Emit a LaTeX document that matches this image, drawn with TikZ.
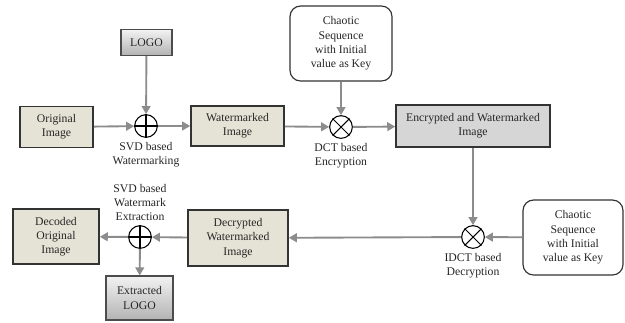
\documentclass[tikz,border=0pt]{standalone}
\usepackage{fontspec}
\setmainfont{Liberation Serif}
\usepackage{tikz}
\usetikzlibrary{arrows.meta,positioning,calc}
\definecolor{boxbeige}{rgb}{0.90,0.89,0.84}
\definecolor{boxgrey}{rgb}{0.84,0.84,0.84}
\definecolor{flowgrey}{rgb}{0.55,0.55,0.55}

\begin{document}
\begin{tikzpicture}[x=0.03cm,y=-0.03cm,every node/.style={font=\fontsize{10}{12.2}\selectfont,text=black!85},
    imgbox/.style={draw=black!80,line width=1.3pt,fill=boxbeige,align=center,inner sep=2pt},
    logobox/.style={draw=black!70,line width=1pt,top color=gray!10,bottom color=gray!60,align=center},
    keybox/.style={draw=black!80,line width=1pt,rounded corners=9pt,fill=white,align=center,
                   minimum width=3.06cm,minimum height=2.25cm},
    opnode/.style={circle,draw=black,line width=0.9pt,minimum size=0.68cm,inner sep=0pt},
    flow/.style={draw=flowgrey,line width=1.6pt,-{Triangle[length=2.4mm,width=2.6mm]}}]
  \useasboundingbox (0,0) rectangle (625,322);
  % top row: embedding and encryption
  \node[imgbox,minimum width=2.19cm,minimum height=1.23cm] (orig) at (56.5,127) {Original\\Image};
  \node[logobox,minimum width=1.53cm,minimum height=0.78cm] (logo) at (146.5,42.5) {LOGO};
  \node[opnode] (add1) at (146,126) {};
  \draw[line width=0.9pt] (add1.north) -- (add1.south) (add1.west) -- (add1.east);
  \node[imgbox,minimum width=2.79cm,minimum height=1.2cm] (wm) at (237.5,126) {Watermarked\\Image};
  \node[keybox] (key1) at (341,43.5) {Chaotic\\Sequence\\with Initial\\value as Key};
  \node[opnode] (mul1) at (341,127) {};
  \draw[line width=0.9pt] (mul1.north west) -- (mul1.south east) (mul1.north east) -- (mul1.south west);
  \node[imgbox,fill=boxgrey,minimum width=4.62cm,minimum height=1.26cm] (enc) at (473,126)
       {Encrypted and Watermarked\\Image};
  \node[below=0pt of add1,align=center] (lbl1) {SVD based\\Watermarking};
  \node[below=0pt of mul1,align=center] (lbl2) {DCT based\\Encryption};
  % bottom row: decryption and extraction
  \node[opnode] (mul2) at (473,237) {};
  \draw[line width=0.9pt] (mul2.north west) -- (mul2.south east) (mul2.north east) -- (mul2.south west);
  \node[keybox,minimum width=3.0cm] (key2) at (573,237.5) {Chaotic\\Sequence\\with Initial\\value as Key};
  \node[imgbox,minimum width=3.0cm,minimum height=1.68cm] (dec) at (238,238) {Decrypted\\Watermarked\\Image};
  \node[opnode] (add2) at (140,237) {};
  \draw[line width=0.9pt] (add2.north) -- (add2.south) (add2.west) -- (add2.east);
  \node[imgbox,minimum width=2.58cm,minimum height=1.65cm] (out) at (56,236.5) {Decoded\\Original\\Image};
  \node[logobox,minimum width=2.01cm,minimum height=1.32cm] (exlogo) at (139.5,298) {Extracted\\LOGO};
  \node[below=0pt of mul2,align=center] (lbl3) {IDCT based\\Decryption};
  \node[above=0pt of add2,align=center] (lbl4) {SVD based\\Watermark\\Extraction};
  % connectors
  \draw[flow] (orig) -- (add1);
  \draw[flow] (logo) -- (add1);
  \draw[flow] (add1) -- (wm);
  \draw[flow] (wm) -- (mul1);
  \draw[flow] (key1) -- (mul1);
  \draw[flow] (mul1) -- (enc);
  \draw[flow] (enc.south -| mul2) -- (mul2);
  \draw[flow] (key2) -- (mul2);
  \draw[flow] (mul2) -- (dec);
  \draw[flow] (dec) -- (add2);
  \draw[flow] (add2) -- (out);
  \draw[flow] (add2) -- (exlogo);
\end{tikzpicture}
\end{document}
